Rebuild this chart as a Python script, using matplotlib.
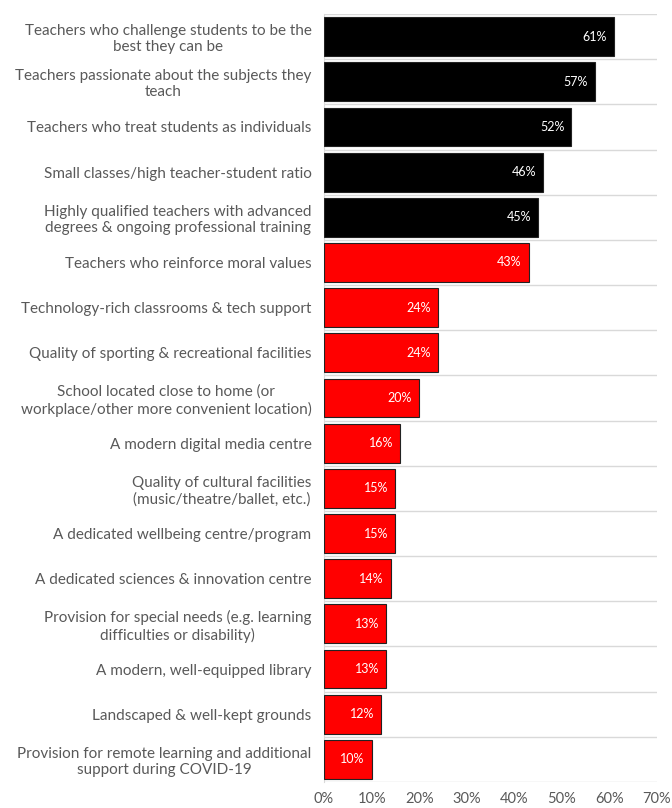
import matplotlib.pyplot as plt

labels = [
    "Teachers who challenge students to be the\nbest they can be",
    "Teachers passionate about the subjects they\nteach",
    "Teachers who treat students as individuals",
    "Small classes/high teacher-student ratio",
    "Highly qualified teachers with advanced\ndegrees & ongoing professional training",
    "Teachers who reinforce moral values",
    "Technology-rich classrooms & tech support",
    "Quality of sporting & recreational facilities",
    "School located close to home (or\nworkplace/other more convenient location)",
    "A modern digital media centre",
    "Quality of cultural facilities\n(music/theatre/ballet, etc.)",
    "A dedicated wellbeing centre/program",
    "A dedicated sciences & innovation centre",
    "Provision for special needs (e.g. learning\ndifficulties or disability)",
    "A modern, well-equipped library",
    "Landscaped & well-kept grounds",
    "Provision for remote learning and additional\nsupport during COVID-19",
]
values = [61, 57, 52, 46, 45, 43, 24, 24, 20, 16, 15, 15, 14, 13, 13, 12, 10]
colors = ["black"] * 5 + ["#ff0000"] * 12
ticks = [0, 10, 20, 30, 40, 50, 60, 70]

plt.rcParams['font.family'] = ['Lato', 'DejaVu Sans']
grey = "#595959"

fig = plt.figure(figsize=(6.72, 8.08), dpi=100)
ax = fig.add_axes([324 / 672, 26 / 808, 333 / 672, 768 / 808])

n = len(values)
ys = list(range(n))
ax.barh(ys, values, height=0.86, color=colors, edgecolor="#222222", linewidth=0.8, zorder=3)

for y, v in zip(ys, values):
    ax.annotate(f"{v}%", (v, y), xytext=(-5, 0), textcoords="offset points",
                ha="right", va="center", color="white", fontsize=9, zorder=4)

# row separators
for b in range(n + 1):
    ax.axhline(b - 0.5, color="#d9d9d9", linewidth=1, zorder=1)

ax.set_ylim(n - 0.5, -0.5)
ax.set_xlim(0, 70)
ax.set_yticks(ys)
ax.set_yticklabels(labels, fontsize=11, color=grey, ha="right", multialignment="center")
ax.set_xticks(ticks)
ax.set_xticklabels([f"{t}%" for t in ticks], fontsize=10.5, color=grey)
ax.tick_params(axis="both", length=0)
ax.tick_params(axis="y", pad=9)
ax.tick_params(axis="x", pad=7)
for s in ["top", "right", "bottom"]:
    ax.spines[s].set_visible(False)
ax.spines["left"].set_color("#d9d9d9")

fig.savefig("out.png", dpi=100)
